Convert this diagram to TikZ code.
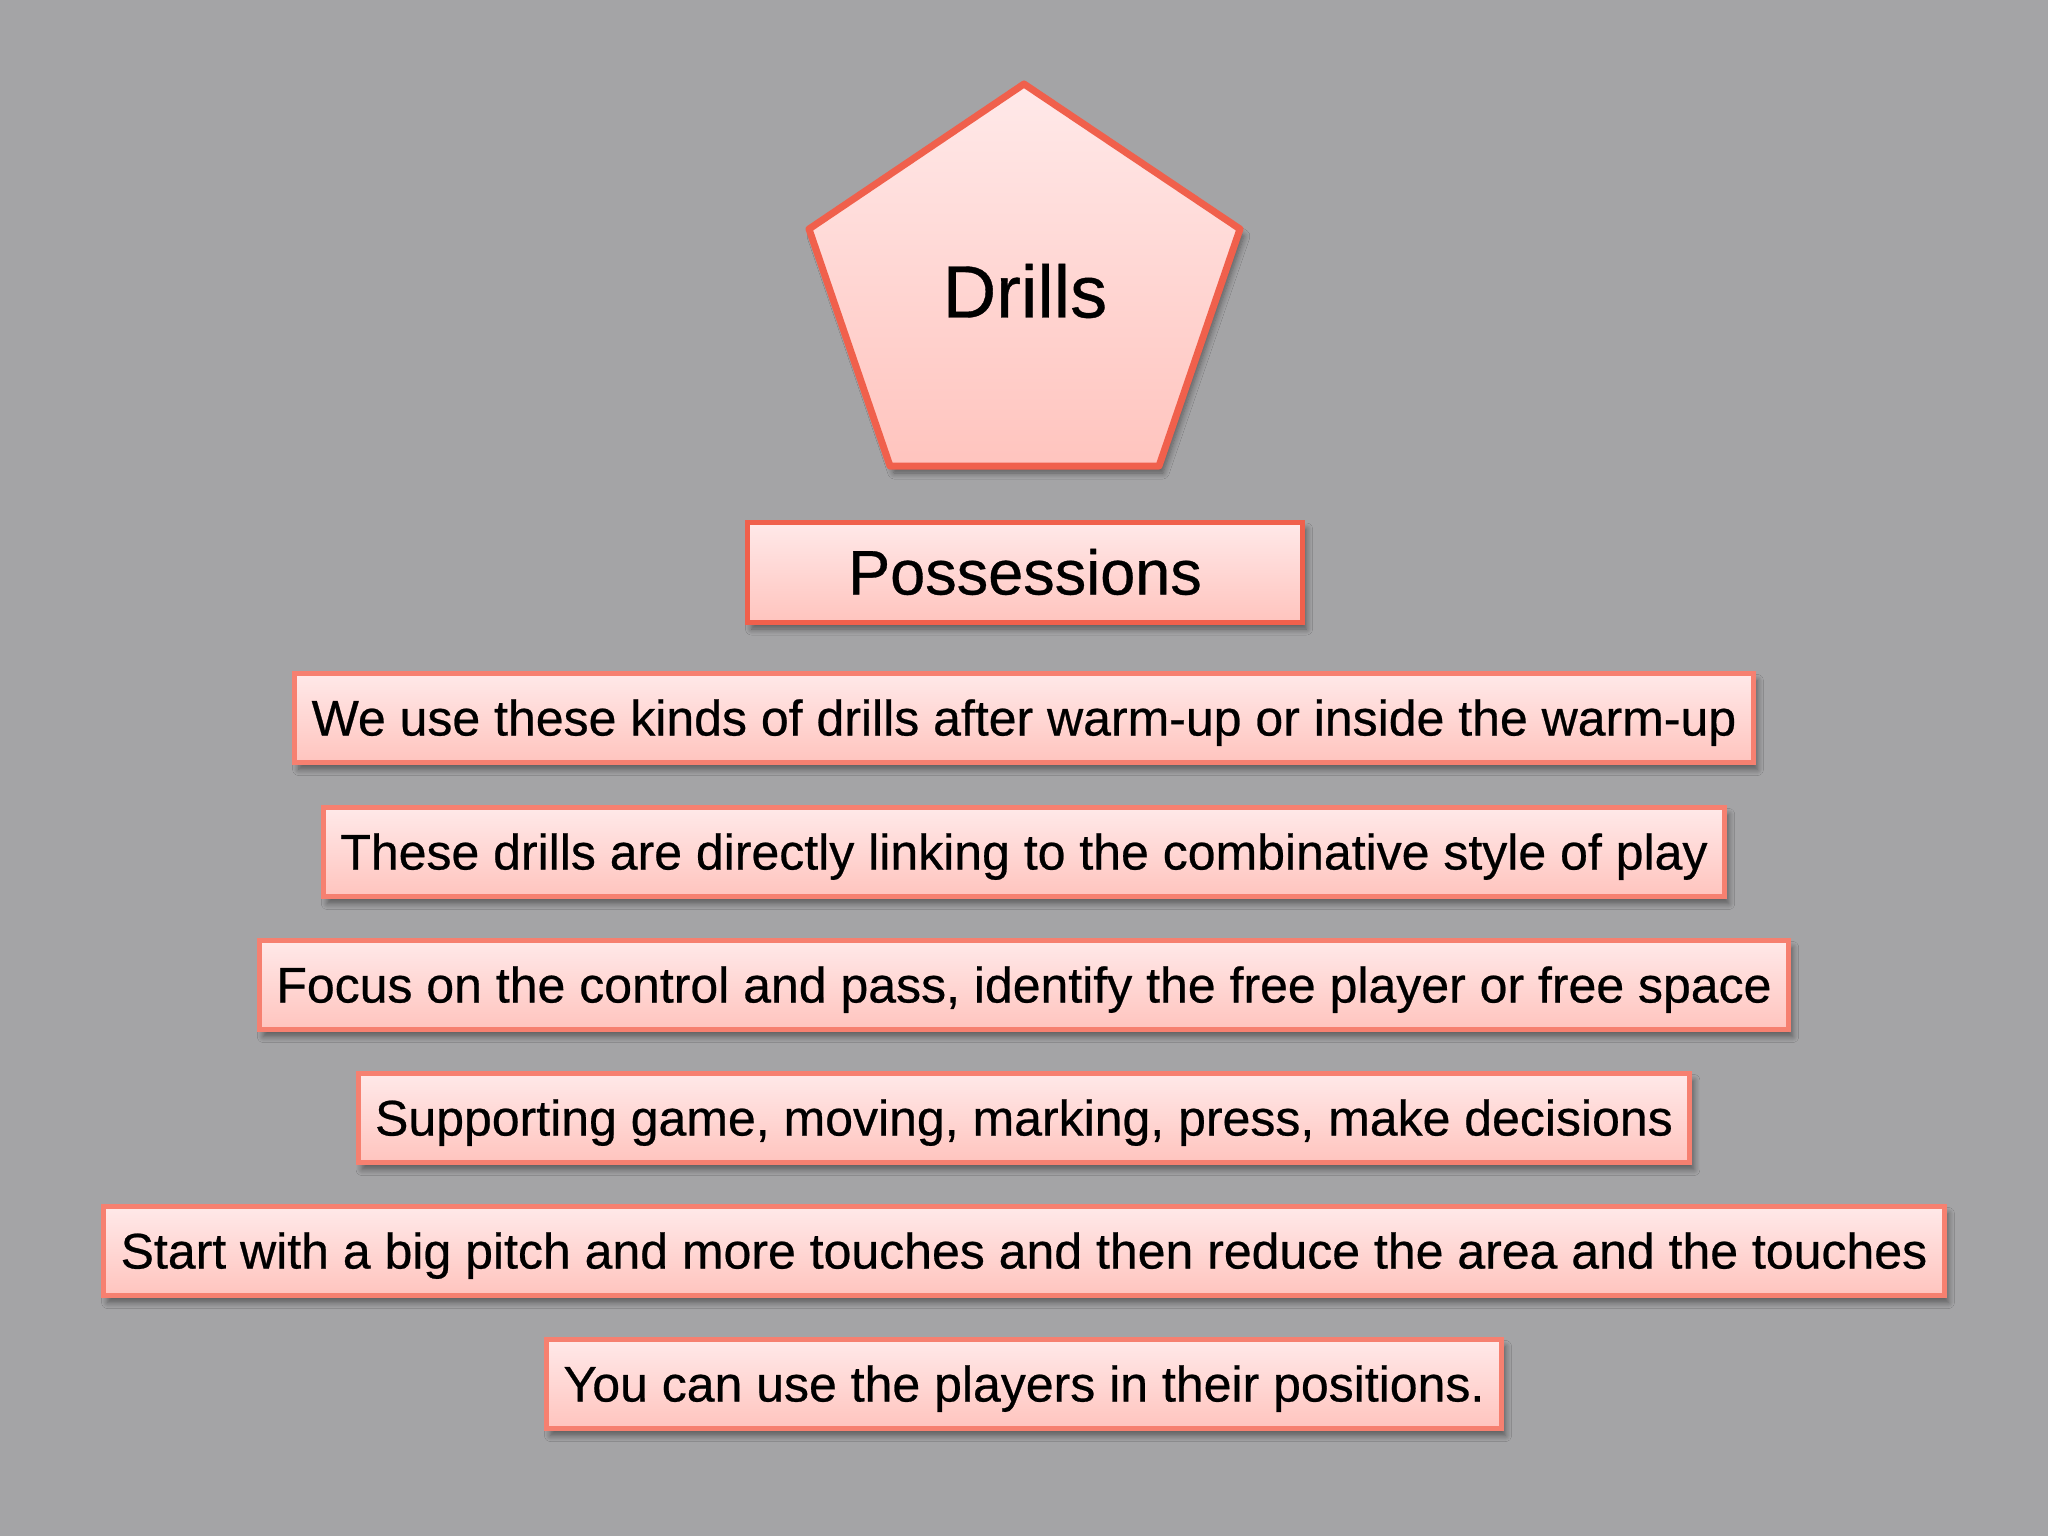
\documentclass[tikz,border=0pt]{standalone}
\usepackage{fontspec}
\setmainfont{Liberation Sans}[FakeBold=0.5]
\usetikzlibrary{shadows.blur}
\definecolor{slidegray}{RGB}{164,164,166}
\definecolor{pinktop}{RGB}{255,233,233}
\definecolor{pinkbot}{RGB}{255,196,190}
\definecolor{coral}{RGB}{240,96,76}
\definecolor{salmon}{RGB}{246,128,112}

\begin{document}
\begin{tikzpicture}[x=1pt,y=-1pt,
  shade/.style={blur shadow={shadow xshift=4pt,shadow yshift=-7pt,shadow blur steps=8,shadow blur radius=6pt,shadow opacity=45}},
  card/.style={draw=salmon, line width=5pt, top color=pinktop, bottom color=pinkbot, shade,
    minimum height=89pt, inner xsep=17pt, text height=35pt, text depth=0pt,
    font=\fontsize{50}{58}\selectfont}]
  \fill[slidegray] (0,0) rectangle (2048,1536);
  % the pentagon on top
  \draw[draw=coral, line width=7pt, line join=round, top color=pinktop, bottom color=pinkbot, shade]
    (1024,84) -- (1240,229) -- (1159,466) -- (890,466) -- (809,229) -- cycle;
  \node (drills) at (1025,291) {\fontsize{74}{80}\selectfont Drills};
  \node[card, draw=coral, minimum width=555pt, minimum height=100pt, text height=45pt,
    font=\fontsize{63}{70}\selectfont] (poss) at (1025,572) {Possessions};
  % the lines under it
  \foreach \y/\txt [count=\i] in {718/{We use these kinds of drills after warm-up or inside the warm-up},
      852/{These drills are directly linking to the combinative style of play},
      985/{Focus on the control and pass, identify the free player or free space},
      1118/{Supporting game, moving, marking, press, make decisions},
      1251/{Start with a big pitch and more touches and then reduce the area and the touches},
      1384/{You can use the players in their positions.}}
    \node[card] (line\i) at (1024,\y) {\txt};
\end{tikzpicture}
\end{document}
